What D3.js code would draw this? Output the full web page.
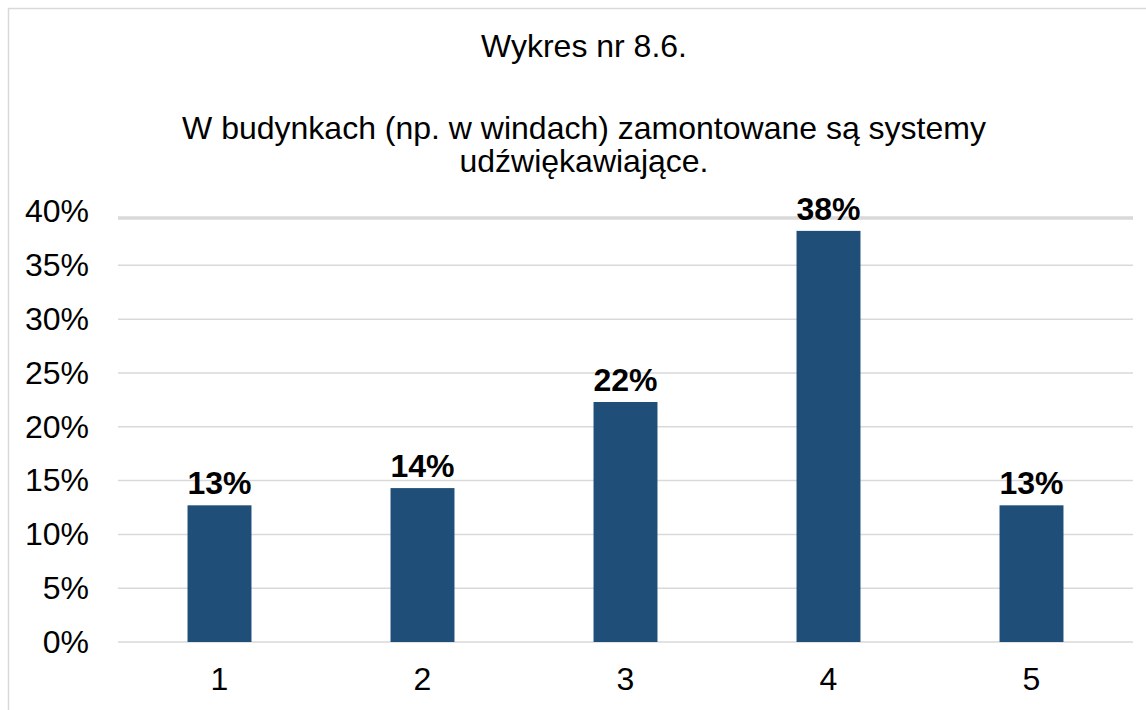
<!DOCTYPE html>
<html lang="pl">
<head>
    <meta charset="UTF-8">
    <title>Wykres nr 8.6.</title>
    <script src="https://cdn.jsdelivr.net/npm/d3@7"></script>
    <style>
        html, body { margin: 0; padding: 0; background: #fff; }
        svg { display: block; font-family: Arial, "Liberation Sans", sans-serif; }
    </style>
</head>
<body>
    <script>
        // dane
        const categories = ['1', '2', '3', '4', '5'];
        const values = [0.127, 0.143, 0.223, 0.382, 0.127];
        const valueLabels = ['13%', '14%', '22%', '38%', '13%'];
        const yTicks = [0, 0.05, 0.10, 0.15, 0.20, 0.25, 0.30, 0.35, 0.40];
        const titleLines = ['Wykres nr 8.6.', '', 'W budynkach (np. w windach) zamontowane są systemy', 'udźwiękawiające.'];

        const width = 1146, height = 710;
        const plotLeft = 118, plotRight = 1133, plotTop = 211.5, plotBottom = 642;
        const fontSize = '32px';

        const svg = d3.select('body').append('svg')
            .attr('width', width)
            .attr('height', height);

        // ramka wykresu
        svg.append('rect')
            .attr('x', 8.5).attr('y', 8.5)
            .attr('width', 1160).attr('height', 720)
            .attr('fill', '#fff')
            .attr('stroke', '#d9d9d9')
            .attr('stroke-width', 1.5);

        const x = d3.scaleBand()
            .domain(categories)
            .range([plotLeft, plotRight])
            .paddingInner(0.685)
            .paddingOuter(0.3425);

        const y = d3.scaleLinear()
            .domain([0, 0.4])
            .range([plotBottom, plotTop]);

        // tytuł
        svg.selectAll('.title').data(titleLines).enter().append('text')
            .attr('class', 'title')
            .attr('x', 584)
            .attr('y', function(d, i) { return [57, 0, 139, 172][i]; })
            .attr('text-anchor', 'middle')
            .attr('font-size', fontSize)
            .attr('fill', '#000')
            .text(function(d) { return d; });

        // linie siatki
        svg.selectAll('.grid').data(yTicks).enter().append('line')
            .attr('class', 'grid')
            .attr('x1', plotLeft).attr('x2', plotRight)
            .attr('y1', function(d) { return d === 0.4 ? y(d) + 6.5 : y(d); })
            .attr('y2', function(d) { return d === 0.4 ? y(d) + 6.5 : y(d); })
            .attr('stroke', '#d9d9d9')
            .attr('stroke-width', function(d) { return d === 0.4 ? 3.5 : 1.5; });

        // oś Y
        const yAxis = svg.append('g')
            .attr('transform', 'translate(89,0)')
            .call(d3.axisLeft(y).tickValues(yTicks).tickSize(0).tickPadding(0)
                .tickFormat(d3.format('.0%')));
        yAxis.select('.domain').remove();
        yAxis.selectAll('text')
            .attr('font-size', fontSize)
            .attr('font-family', 'Arial, "Liberation Sans", sans-serif')
            .attr('fill', '#000');

        // oś X
        const xAxis = svg.append('g')
            .attr('transform', 'translate(0,' + plotBottom + ')')
            .call(d3.axisBottom(x).tickSize(0).tickPadding(0));
        xAxis.select('.domain').remove();
        xAxis.selectAll('text')
            .attr('dy', null)
            .attr('y', 48)
            .attr('font-size', fontSize)
            .attr('font-family', 'Arial, "Liberation Sans", sans-serif')
            .attr('fill', '#000');

        // słupki
        svg.selectAll('.bar').data(values).enter().append('rect')
            .attr('class', 'bar')
            .attr('x', function(d, i) { return x(categories[i]); })
            .attr('y', function(d) { return y(d); })
            .attr('width', x.bandwidth())
            .attr('height', function(d) { return plotBottom - y(d); })
            .attr('fill', '#1f4e79');

        // etykiety wartości
        svg.selectAll('.barLabel').data(values).enter().append('text')
            .attr('class', 'barLabel')
            .attr('x', function(d, i) { return x(categories[i]) + x.bandwidth() / 2; })
            .attr('y', function(d) { return y(d) - 11; })
            .attr('text-anchor', 'middle')
            .attr('font-size', fontSize)
            .attr('font-weight', 'bold')
            .attr('fill', '#000')
            .text(function(d, i) { return valueLabels[i]; });
    </script>
</body>
</html>
